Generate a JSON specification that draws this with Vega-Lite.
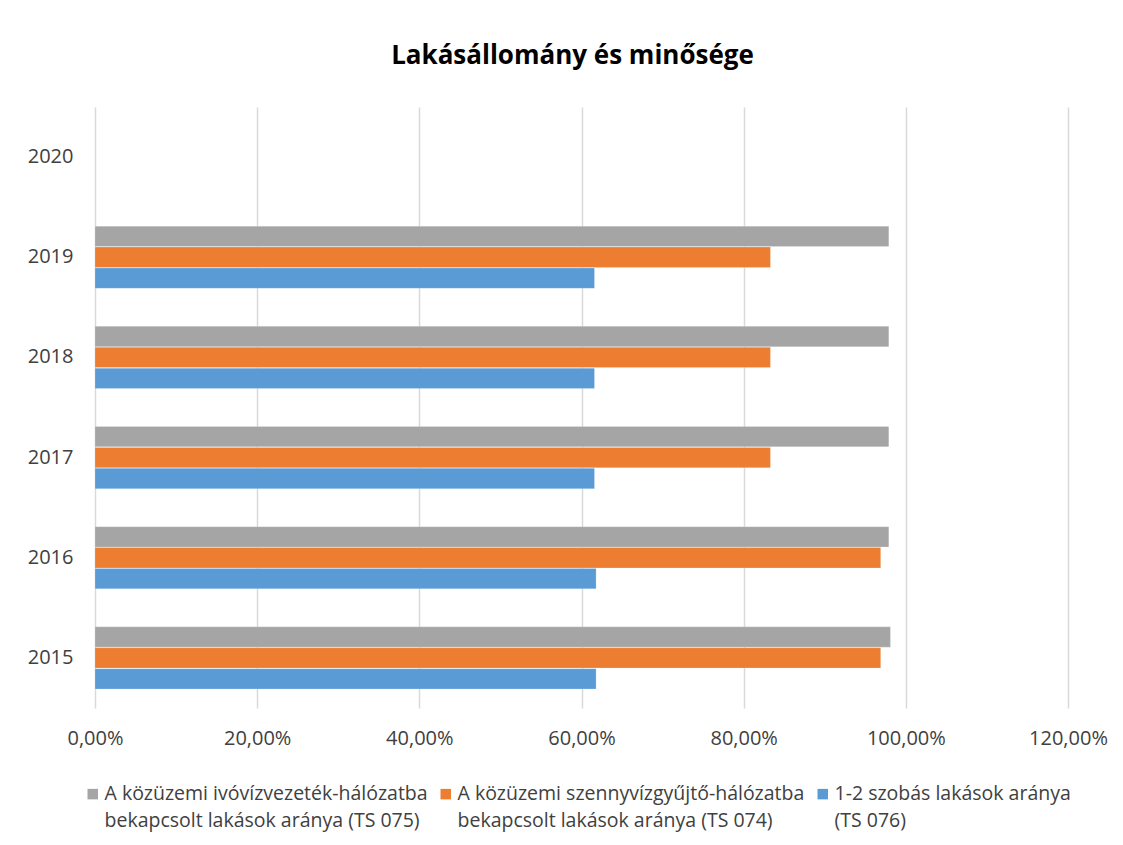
{
  "$schema": "https://vega.github.io/schema/vega-lite/v6.json",
  "width": 973,
  "height": 601,
  "autosize": {"type": "none"},
  "padding": {"left": 95, "top": 107, "right": 55, "bottom": 137},
  "background": "white",
  "title": {
    "text": "Lakásállomány és minősége",
    "font": "Open Sans",
    "fontSize": 26,
    "fontWeight": "bold",
    "color": "#000000",
    "anchor": "middle",
    "dx": -9,
    "offset": 38
  },
  "data": {
    "values": [
      {"year": "2015", "series": "A közüzemi ivóvízvezeték-hálózatba|bekapcsolt lakások aránya (TS 075)", "value": 0.981},
      {"year": "2015", "series": "A közüzemi szennyvízgyűjtő-hálózatba|bekapcsolt lakások aránya (TS 074)", "value": 0.969},
      {"year": "2015", "series": "1-2 szobás lakások aránya|(TS 076)", "value": 0.618},
      {"year": "2016", "series": "A közüzemi ivóvízvezeték-hálózatba|bekapcsolt lakások aránya (TS 075)", "value": 0.979},
      {"year": "2016", "series": "A közüzemi szennyvízgyűjtő-hálózatba|bekapcsolt lakások aránya (TS 074)", "value": 0.969},
      {"year": "2016", "series": "1-2 szobás lakások aránya|(TS 076)", "value": 0.618},
      {"year": "2017", "series": "A közüzemi ivóvízvezeték-hálózatba|bekapcsolt lakások aránya (TS 075)", "value": 0.979},
      {"year": "2017", "series": "A közüzemi szennyvízgyűjtő-hálózatba|bekapcsolt lakások aránya (TS 074)", "value": 0.833},
      {"year": "2017", "series": "1-2 szobás lakások aránya|(TS 076)", "value": 0.616},
      {"year": "2018", "series": "A közüzemi ivóvízvezeték-hálózatba|bekapcsolt lakások aránya (TS 075)", "value": 0.979},
      {"year": "2018", "series": "A közüzemi szennyvízgyűjtő-hálózatba|bekapcsolt lakások aránya (TS 074)", "value": 0.833},
      {"year": "2018", "series": "1-2 szobás lakások aránya|(TS 076)", "value": 0.616},
      {"year": "2019", "series": "A közüzemi ivóvízvezeték-hálózatba|bekapcsolt lakások aránya (TS 075)", "value": 0.979},
      {"year": "2019", "series": "A közüzemi szennyvízgyűjtő-hálózatba|bekapcsolt lakások aránya (TS 074)", "value": 0.833},
      {"year": "2019", "series": "1-2 szobás lakások aránya|(TS 076)", "value": 0.616}
    ]
  },
  "mark": {"type": "bar", "stroke": "white", "strokeWidth": 0.5, "strokeOpacity": 0.4},
  "encoding": {
    "y": {
      "field": "year",
      "type": "nominal",
      "scale": {"domain": ["2020", "2019", "2018", "2017", "2016", "2015"], "paddingInner": 0.38, "paddingOuter": 0.19},
      "axis": {
        "title": null,
        "domain": false,
        "ticks": false,
        "grid": false,
        "labelFont": "Open Sans",
        "labelFontSize": 20,
        "labelColor": "#404040",
        "labelPadding": 22
      }
    },
    "yOffset": {
      "field": "series",
      "type": "nominal",
      "scale": {
        "domain": [
          "A közüzemi ivóvízvezeték-hálózatba|bekapcsolt lakások aránya (TS 075)",
          "A közüzemi szennyvízgyűjtő-hálózatba|bekapcsolt lakások aránya (TS 074)",
          "1-2 szobás lakások aránya|(TS 076)"
        ],
        "paddingInner": 0.03,
        "paddingOuter": 0
      }
    },
    "x": {
      "field": "value",
      "type": "quantitative",
      "scale": {"domain": [0, 1.2], "nice": false},
      "axis": {
        "title": null,
        "domain": false,
        "ticks": false,
        "values": [0, 0.2, 0.4, 0.6, 0.8, 1.0, 1.2],
        "labelExpr": "replace(format(datum.value, '.2%'), '.', ',')",
        "labelFlush": false,
        "labelOverlap": false,
        "labelFont": "Open Sans",
        "labelFontSize": 20,
        "labelColor": "#404040",
        "labelPadding": 20,
        "gridColor": "#D9D9D9",
        "gridWidth": 1.5
      }
    },
    "color": {
      "field": "series",
      "type": "nominal",
      "scale": {
        "domain": [
          "A közüzemi ivóvízvezeték-hálózatba|bekapcsolt lakások aránya (TS 075)",
          "A közüzemi szennyvízgyűjtő-hálózatba|bekapcsolt lakások aránya (TS 074)",
          "1-2 szobás lakások aránya|(TS 076)"
        ],
        "range": ["#A5A5A5", "#ED7D31", "#5B9BD5"]
      },
      "legend": {
        "title": null,
        "orient": "none",
        "direction": "horizontal",
        "legendX": -12,
        "legendY": 677,
        "symbolType": "square",
        "symbolSize": 110,
        "symbolStrokeWidth": 0,
        "symbolOpacity": 1,
        "labelExpr": "split(datum.label, '|')",
        "labelFont": "Open Sans",
        "labelFontSize": 19.5,
        "labelColor": "#404040",
        "labelLimit": 500,
        "labelOffset": 2,
        "labelBaseline": "top",
        "columnPadding": 8,
        "encoding": {
          "labels": {"lineHeight": {"value": 27}, "dy": {"value": -9}}
        }
      }
    }
  },
  "config": {
    "view": {"stroke": null}
  }
}
